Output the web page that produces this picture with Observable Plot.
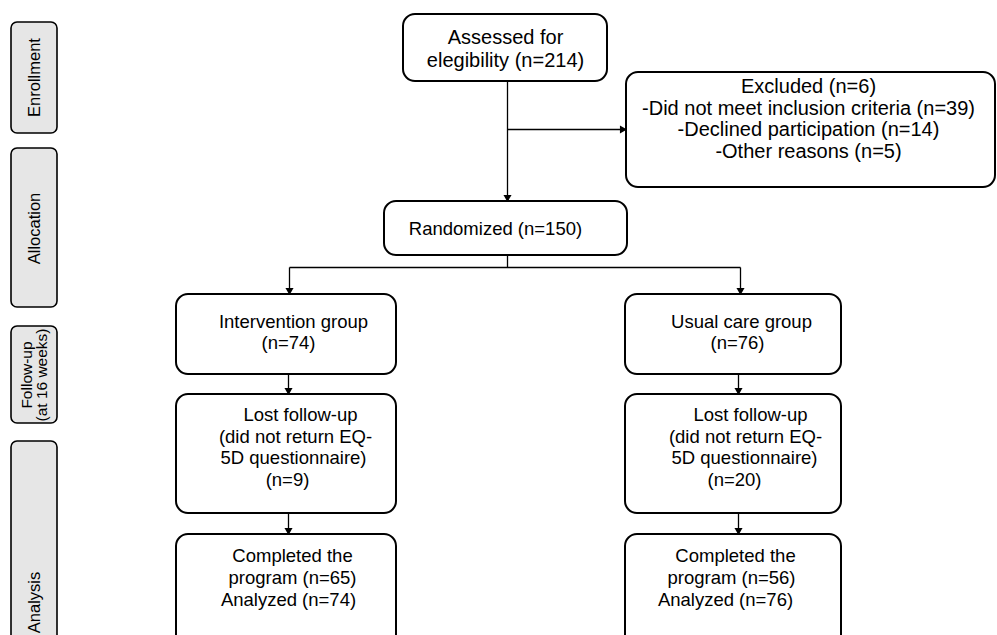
<!DOCTYPE html>
<html>
<head>
<meta charset="utf-8">
<script src="https://cdn.jsdelivr.net/npm/d3@7"></script>
<script src="https://cdn.jsdelivr.net/npm/@observablehq/plot@0.6"></script>
<style>
  html, body { margin: 0; padding: 0; background: white; }
  #chart svg { display: block; overflow: hidden; }
</style>
</head>
<body>
<div id="chart"></div>
<script>
// ---------------- DATA ----------------
const stages = ["Enrollment", "Allocation", "Follow-up\n(at 16 weeks)", "Analysis"];
const assessed = 214;
const excludedTotal = 6;
const exclusionReasons = ["Did not meet inclusion criteria", "Declined participation", "Other reasons"];
const exclusionCounts = [39, 14, 5];
const randomized = 150;
const groups = ["Intervention group", "Usual care group"];
const allocated = [74, 76];
const lostFollowUp = [9, 20];
const completed = [65, 56];
const analyzed = [74, 76];

// ---------------- LAYOUT (pixel frame of the diagram) ----------------
const W = 997, H = 635;
const side = {x1: 11, x2: 57, rows: [[22, 133], [148, 307], [326, 423], [441, 650]]};
const sideCentres = [77, 228, 374.5, 602];
const sideFont = [16.5, 16.5, 15.5, 16.5];
const cols = [{x1: 176, x2: 396, c: 288}, {x1: 625, x2: 841, c: 738}];
const rowAlloc = [294, 374], rowLost = [394, 513], rowDone = [534, 650];
const boxAssessed = {x1: 403, x2: 607, y1: 14, y2: 81};
const boxExcluded = {x1: 626, x2: 995, y1: 72, y2: 187};
const boxRandom = {x1: 384, x2: 627, y1: 201, y2: 255};
const trunkX = 507, branchY = 129, splitY = 267;
const lineH = 21.6;
// per-line horizontal nudges (the source text was centred with stray spaces)
const nudges = {
  alloc: [[5, 0], [3, -1]],
  lost: [[12, 7, 5, -1], [12, 7, 6, -4]],
  done: [[4, 4, 0], [-3, -7, -13]]
};

// ---------------- BUILD ----------------
const mainBoxes = [boxAssessed, boxExcluded, boxRandom];
cols.forEach(c => {
  for (const r of [rowAlloc, rowLost, rowDone]) mainBoxes.push({x1: c.x1, x2: c.x2, y1: r[0], y2: r[1]});
});
const sideBoxes = side.rows.map(r => ({x1: side.x1, x2: side.x2, y1: r[0], y2: r[1]}));

// text lines
const lines = [];
function block(textLines, cx, cy, dxs = [], size = 18.5, lh = lineH) {
  const n = textLines.length;
  textLines.forEach((t, i) => lines.push({x: cx + (dxs[i] || 0), y: cy + (i - (n - 1) / 2) * lh, text: t, size}));
}
block(["Assessed for", `elegibility (n=${assessed})`], 505, 48.5, [], 20, 23);
block([`Excluded (n=${excludedTotal})`, ...exclusionReasons.map((r, i) => `-${r} (n=${exclusionCounts[i]})`)], 808, 118.5, [], 20, 21.7);
block([`Randomized (n=${randomized})`], 495, 229);
cols.forEach((c, g) => {
  block([groups[g], `(n=${allocated[g]})`], c.c, (rowAlloc[0] + rowAlloc[1]) / 2 - 2, nudges.alloc[g]);
  block(["Lost follow-up", "(did not return EQ-", "5D questionnaire)", `(n=${lostFollowUp[g]})`], c.c, 447, nudges.lost[g]);
  block(["Completed the", `program (n=${completed[g]})`, `Analyzed (n=${analyzed[g]})`], c.c, 577.5, nudges.done[g]);
});

const sideLabels = stages.map((s, i) => ({x: (side.x1 + side.x2) / 2, y: sideCentres[i], text: s, size: sideFont[i]}));

// connectors
const segs = [
  {x1: trunkX, y1: boxAssessed.y2, x2: trunkX, y2: boxRandom.y1},
  {x1: trunkX, y1: branchY, x2: boxExcluded.x1, y2: branchY},
  {x1: trunkX, y1: boxRandom.y2, x2: trunkX, y2: splitY},
  {x1: cols[0].c + 1, y1: splitY, x2: cols[1].c + 2, y2: splitY},
  {x1: cols[0].c + 1, y1: splitY, x2: cols[0].c + 1, y2: rowAlloc[0]},
  {x1: cols[1].c + 2, y1: splitY, x2: cols[1].c + 2, y2: rowAlloc[0]}
];
const downTips = [
  {x: trunkX, y: boxRandom.y1},
  {x: cols[0].c + 1, y: rowAlloc[0]},
  {x: cols[1].c + 2, y: rowAlloc[0]}
];
cols.forEach(c => {
  segs.push({x1: c.c, y1: rowAlloc[1], x2: c.c, y2: rowLost[0]});
  segs.push({x1: c.c, y1: rowLost[1], x2: c.c, y2: rowDone[0]});
  downTips.push({x: c.c, y: rowLost[0]}, {x: c.c, y: rowDone[0]});
});
const rightTips = [{x: boxExcluded.x1, y: branchY}];

const font = "Liberation Sans, Arial, Helvetica, sans-serif";

const textMarks = [...new Set(lines.map(d => d.size))].map(s =>
  Plot.text(lines.filter(d => d.size === s), {x: "x", y: "y", text: "text", fontSize: s, fill: "black", textAnchor: "middle", lineAnchor: "middle", fontFamily: font})
);
const sideMarks = sideLabels.map(d =>
  Plot.text([d], {x: "x", y: "y", text: "text", rotate: -90, fontSize: d.size, lineHeight: 0.97, fill: "black", textAnchor: "middle", lineAnchor: "middle", fontFamily: font})
);

const chart = Plot.plot({
  width: W, height: H,
  margin: 0,
  x: {domain: [0, W], range: [0, W], axis: null},
  y: {domain: [0, H], range: [0, H], axis: null},
  style: {fontFamily: font, background: "white"},
  marks: [
    Plot.link(segs, {x1: "x1", y1: "y1", x2: "x2", y2: "y2", stroke: "black", strokeWidth: 1.3}),
    Plot.dot(downTips, {x: "x", y: "y", symbol: "triangle", rotate: 180, r: 3, dy: -4.2, fill: "black", stroke: "none"}),
    Plot.dot(rightTips, {x: "x", y: "y", symbol: "triangle", rotate: 90, r: 3, dx: -4.2, fill: "black", stroke: "none"}),
    Plot.rect(sideBoxes, {x1: "x1", x2: "x2", y1: "y1", y2: "y2", fill: "#e6e6e6", stroke: "black", strokeWidth: 1.6, rx: 6, ry: 6}),
    Plot.rect(mainBoxes, {x1: "x1", x2: "x2", y1: "y1", y2: "y2", fill: "white", stroke: "black", strokeWidth: 2, rx: 12, ry: 12}),
    ...textMarks,
    ...sideMarks
  ]
});
document.getElementById("chart").appendChild(chart);
</script>
</body>
</html>
